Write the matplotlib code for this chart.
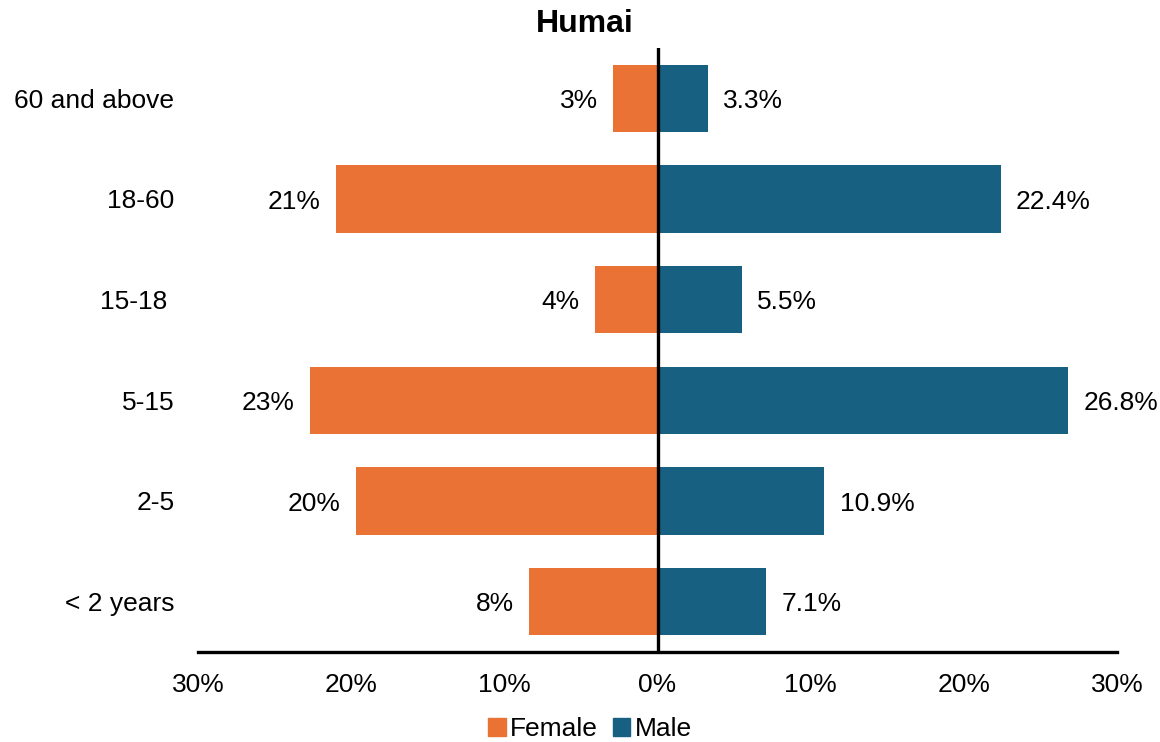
import matplotlib
matplotlib.use("Agg")
import matplotlib.pyplot as plt
from matplotlib.patches import Patch

plt.rcParams['font.family'] = ['Liberation Sans', 'DejaVu Sans']

# Age groups, bottom to top
age_groups = ["< 2 years", "2-5", "5-15", "15-18 ", "18-60", "60 and above"]
female_pct = [8.4, 19.7, 22.7, 4.1, 21.0, 2.9]
male_pct = [7.1, 10.9, 26.8, 5.5, 22.4, 3.3]
x_ticks = [-30, -20, -10, 0, 10, 20, 30]
x_tick_labels = ["30%", "20%", "10%", "0%", "10%", "20%", "30%"]

female_color = "#E97234"
male_color = "#176082"
fs = 19

fig = plt.figure(figsize=(11.6, 7.42), dpi=100)
ax = fig.add_axes([198 / 1160, 1 - 652 / 742, (1117 - 198) / 1160, (652 - 48) / 742])

ypos = list(range(len(age_groups)))
ax.barh(ypos, [-v for v in female_pct], height=0.67, color=female_color)
ax.barh(ypos, male_pct, height=0.67, color=male_color)

for y, v in zip(ypos, female_pct):
    ax.annotate(f"{v:.0f}%", xy=(-v, y), xytext=(-11, -2), textcoords="offset points",
                ha="right", va="center", fontsize=fs)
for y, v in zip(ypos, male_pct):
    ax.annotate(f"{v:.1f}%", xy=(v, y), xytext=(11, -2), textcoords="offset points",
                ha="left", va="center", fontsize=fs)

ax.axvline(0, color="black", lw=2.4)
ax.set_xlim(-30, 30)
ax.set_ylim(-0.5, 5.5)
ax.set_xticks(x_ticks)
ax.set_xticklabels(x_tick_labels, fontsize=fs)
ax.set_yticks(ypos)
ax.set_yticklabels(age_groups, fontsize=fs)
ax.tick_params(axis="both", length=0)
ax.tick_params(axis="x", pad=15)
ax.tick_params(axis="y", pad=17)
for side in ["top", "right", "left"]:
    ax.spines[side].set_visible(False)
ax.spines["bottom"].set_linewidth(2.4)
ax.spines["bottom"].set_color("black")

fig.text(585 / 1160, 1 - 24 / 742, "Humai", ha="center", va="center",
         fontsize=23, fontweight="bold")

handles = [Patch(color=female_color, label="Female"), Patch(color=male_color, label="Male")]
fig.legend(handles=handles, loc="center", bbox_to_anchor=(590 / 1160, 1 - 729 / 742),
           ncol=2, frameon=False, fontsize=fs, handlelength=0.65, handleheight=0.65,
           handletextpad=0.15, columnspacing=0.6)

fig.savefig("out.png", dpi=100, facecolor="white")
